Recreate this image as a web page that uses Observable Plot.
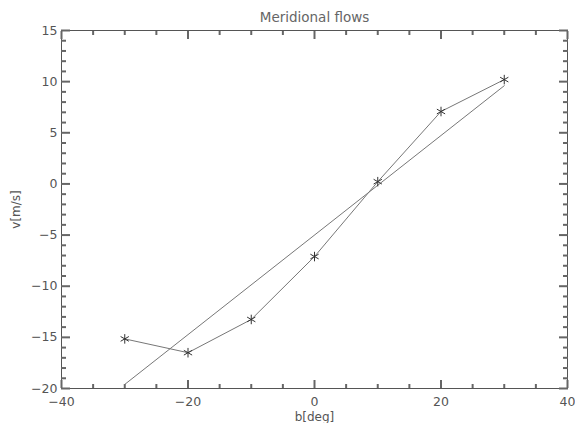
<!DOCTYPE html>
<html>
<head>
<meta charset="utf-8">
<script src="https://cdn.jsdelivr.net/npm/d3@7"></script>
<script src="https://cdn.jsdelivr.net/npm/@observablehq/plot@0.6"></script>
<style>
  html, body { margin: 0; padding: 0; background: #fff; }
  svg { display: block; }
</style>
</head>
<body>
<div id="chart"></div>
<script>
const title = "Meridional flows";
const xLabel = "b[deg]";
const yLabel = "v[m/s]";
const latitude = [-30, -20, -10, 0, 10, 20, 30];
const velocity = [-15.15, -16.5, -13.25, -7.1, 0.22, 7.08, 10.2];
const fitX = [-30, 30];
const fitY = [-19.6, 9.6];
const xMajor = [-40, -20, 0, 20, 40];
const xMinor = [-35, -30, -25, -15, -10, -5, 5, 10, 15, 25, 30, 35];
const yMajor = [-20, -15, -10, -5, 0, 5, 10, 15];
const yMinor = [-19, -18, -17, -16, -14, -13, -12, -11, -9, -8, -7, -6, -4, -3, -2, -1, 1, 2, 3, 4, 6, 7, 8, 9, 11, 12, 13, 14];

const points = latitude.map((x, i) => ({x, y: velocity[i]}));
const fit = fitX.map((x, i) => ({x, y: fitY[i]}));

const axisColor = "#555";
const tickColor = "#666";
const noLabel = () => "";
const tickAxes = [];
for (const anchor of ["bottom", "top"]) {
  tickAxes.push(Plot.axisX(xMajor, {anchor, tickSize: -8, tickFormat: noLabel, stroke: tickColor, strokeWidth: 2, label: null}));
  tickAxes.push(Plot.axisX(xMinor, {anchor, tickSize: -4, tickFormat: noLabel, stroke: tickColor, strokeWidth: 2, label: null}));
}
for (const anchor of ["left", "right"]) {
  tickAxes.push(Plot.axisY(yMajor, {anchor, tickSize: -9, tickFormat: noLabel, stroke: tickColor, strokeWidth: 2, label: null}));
  tickAxes.push(Plot.axisY(yMinor, {anchor, tickSize: -5, tickFormat: noLabel, stroke: tickColor, strokeWidth: 2, label: null}));
}

const chart = Plot.plot({
  width: 575,
  height: 423,
  marginLeft: 61,
  marginRight: 8,
  marginTop: 30,
  marginBottom: 35,
  style: {fontFamily: "DejaVu Sans, sans-serif", color: "#555", background: "#fff"},
  x: {domain: [-40, 40]},
  y: {domain: [-20, 15]},
  marks: [
    Plot.frame({stroke: axisColor, strokeWidth: 1}),
    ...tickAxes,
    Plot.axisX(xMajor, {anchor: "bottom", tickSize: 0, tickPadding: 9, fontSize: 12.5, label: null}),
    Plot.axisY(yMajor, {anchor: "left", tickSize: 0, tickPadding: 4, fontSize: 12.5, label: null}),
    Plot.line(fit, {x: "x", y: "y", stroke: "#777", strokeWidth: 1}),
    Plot.line(points, {x: "x", y: "y", stroke: "#777", strokeWidth: 1}),
    Plot.dot(points, {x: "x", y: "y", symbol: "asterisk", r: 4.5, stroke: "#333", strokeWidth: 1}),
    Plot.text([title], {frameAnchor: "top", lineAnchor: "middle", dy: -13, fontSize: 13.5, letterSpacing: 0.6, fill: "#666"}),
    Plot.text([xLabel], {frameAnchor: "bottom", lineAnchor: "middle", dy: 29, fontSize: 12, letterSpacing: 0.4, fill: "#555"}),
    Plot.text([yLabel], {frameAnchor: "left", textAnchor: "middle", lineAnchor: "middle", dx: -45, rotate: -90, fontSize: 12, letterSpacing: 0.4, fill: "#555"})
  ]
});
document.getElementById("chart").appendChild(chart);
</script>
</body>
</html>
